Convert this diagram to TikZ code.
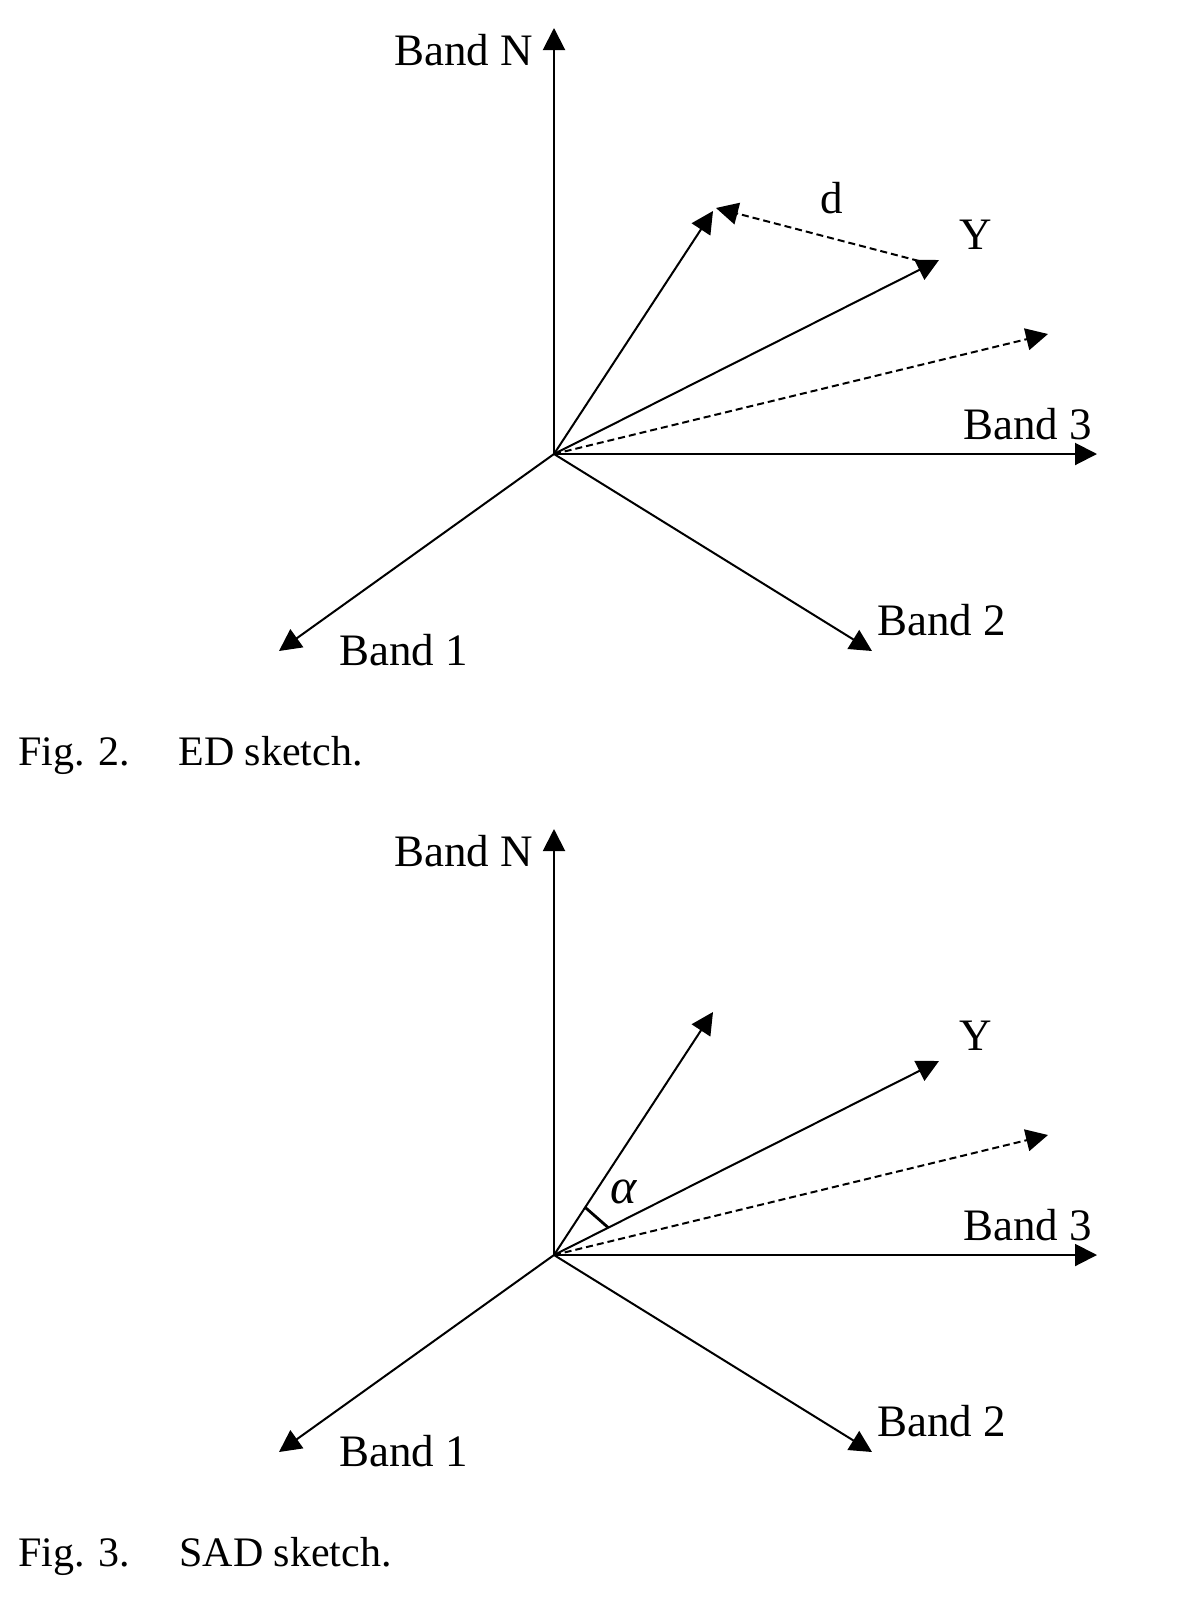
\documentclass[tikz,border=0pt]{standalone}
\usepackage{fontspec}
\setmainfont{Liberation Serif}
\usetikzlibrary{arrows.meta,calc}
\begin{document}
\begin{tikzpicture}[x=0.5pt,y=-0.5pt,
  vec/.style={line width=1pt,-{Triangle[length=11pt,width=11pt]}},
  dashvec/.style={vec,dash pattern=on 3.5pt off 2pt},
  lbl/.style={font=\fontsize{22.5}{27}\selectfont,inner sep=0pt,anchor=base west},
  captext/.style={font=\fontsize{21}{25}\selectfont,inner sep=0pt,anchor=base west}]
\useasboundingbox (0,0) rectangle (1181,1606);
% ---------------- Fig. 2 ----------------
\begin{scope}[name prefix=a-]
\coordinate (O) at (554,454);
\coordinate (N) at (554,28);
\coordinate (B3) at (1097,454);
\coordinate (B1) at (279,651);
\coordinate (B2) at (872,651);
\coordinate (X) at (713,211);
\coordinate (Y) at (939,260);
\coordinate (Z) at (1048,334);
\coordinate (Ys) at (919,261);
\coordinate (Xd) at (716,208);
\draw[vec] (O) -- (N);
\draw[vec] (O) -- (B3);
\draw[vec] (O) -- (B1);
\draw[vec] (O) -- (B2);
\draw[vec] (O) -- (X);
\draw[vec] (O) -- (Y);
\draw[dashvec] (O) -- (Z);
\draw[dashvec] (Ys) -- (Xd);
\node[lbl,anchor=base east] (lN) at (533.5,65) {Band N};
\node[lbl] (l1) at (339,665) {Band 1};
\node[lbl] (l2) at (877,635) {Band 2};
\node[lbl] (l3) at (963,439) {Band 3};
\node[lbl] (lY) at (959,249) {Y};
\node[lbl] (ld) at (820,213) {d};
\node[captext] (f2) at (18,765) {Fig. 2.};
\node[captext] (t2) at (178,765) {ED sketch.};
\end{scope}
% ---------------- Fig. 3 ----------------
\begin{scope}[name prefix=b-,shift={(0,801)}]
\coordinate (O) at (554,454);
\coordinate (N) at (554,28);
\coordinate (B3) at (1097,454);
\coordinate (B1) at (279,651);
\coordinate (B2) at (872,651);
\coordinate (X) at (713,211);
\coordinate (Y) at (939,260);
\coordinate (Z) at (1048,334);
\draw[vec] (O) -- (N);
\draw[vec] (O) -- (B3);
\draw[vec] (O) -- (B1);
\draw[vec] (O) -- (B2);
\draw[vec] (O) -- (X);
\draw[vec] (O) -- (Y);
\draw[dashvec] (O) -- (Z);
\draw[line width=1.4pt] ($(O)!0.196!(X)$) -- ($(O)!0.141!(Y)$);
\node[lbl,anchor=base east] (lN) at (533.5,65) {Band N};
\node[lbl] (l1) at (339,665) {Band 1};
\node[lbl] (l2) at (877,635) {Band 2};
\node[lbl] (l3) at (963,439) {Band 3};
\node[lbl] (lY) at (959,249) {Y};
\node[lbl,font=\fontsize{25}{30}\selectfont\itshape] (la) at (610,402) {α};
\node[captext] (f3) at (18,765.5) {Fig. 3.};
\node[captext] (t3) at (179,765.5) {SAD sketch.};
\end{scope}
\end{tikzpicture}
\end{document}
